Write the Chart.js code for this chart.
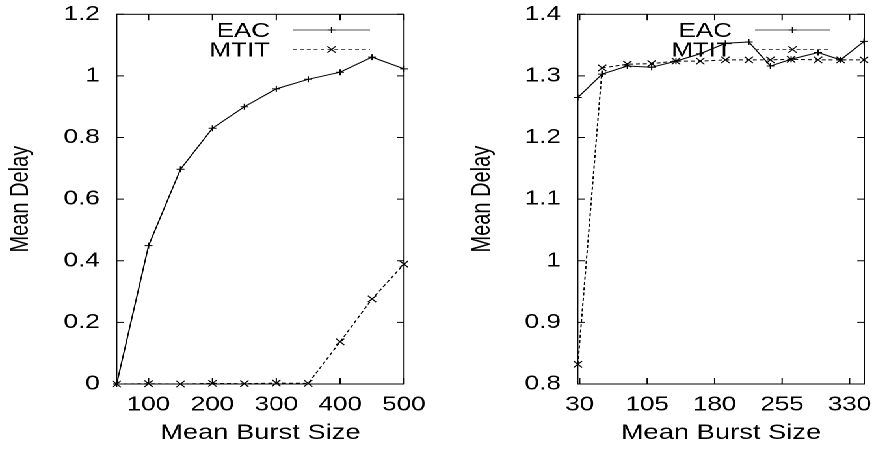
<!DOCTYPE html>
<html>
<head>
<meta charset="utf-8">
<script src="https://cdn.jsdelivr.net/npm/chart.js@4.4.1/dist/chart.umd.min.js"></script>
<style>
  html, body { margin: 0; padding: 0; background: #fff; }
  body { width: 874px; height: 449px; overflow: hidden; }
  /* the original figure is stretched horizontally */
  #wrap { position: absolute; left: 0; top: 0; width: 672px; height: 449px;
          transform: scaleX(1.3006); transform-origin: 0 0; }
  .panel { position: absolute; top: 0; width: 336px; height: 449px; }
  canvas { display: block; }
</style>
</head>
<body>
<div id="wrap">
  <div class="panel" style="left:0"><canvas id="left" width="336" height="449"></canvas></div>
  <div class="panel" style="left:336px"><canvas id="right" width="336" height="449"></canvas></div>
</div>
<script>
// left panel
const leftBurst = [50, 100, 150, 200, 250, 300, 350, 400, 450, 500];
const leftEAC = [0, 0.449, 0.697, 0.830, 0.900, 0.958, 0.989, 1.012, 1.061, 1.023];
const leftMTIT = [0, 0.001, 0, 0.002, 0.001, 0.003, 0.002, 0.137, 0.276, 0.389];
const leftXTicks = [100, 200, 300, 400, 500];
const leftYTicks = [0, 0.2, 0.4, 0.6, 0.8, 1, 1.2];

// right panel
const rightBurst = [28, 55, 83, 110, 137, 164, 192, 218, 242, 265, 295, 320, 346];
const rightEAC = [1.265, 1.303, 1.316, 1.314, 1.324, 1.336, 1.353, 1.355, 1.316, 1.327, 1.338, 1.326, 1.356];
const rightMTIT = [0.832, 1.313, 1.319, 1.320, 1.324, 1.324, 1.326, 1.326, 1.326, 1.327, 1.326, 1.326, 1.326];
const rightXTicks = [30, 105, 180, 255, 330];
const rightYTicks = [0.8, 0.9, 1, 1.1, 1.2, 1.3, 1.4];

const seriesNames = ["EAC", "MTIT"];

const FONT = "'Liberation Sans', Arial, Helvetica, sans-serif";

function fmt(v) {
    return String(Math.round(v * 10) / 10);
}

// box around the plot and inward ticks on all four sides, gnuplot style
const frame = {
    id: "frame",
    afterDatasetsDraw(chart) {
        const { ctx, chartArea: a, scales } = chart;
        ctx.save();
        ctx.strokeStyle = "#000";
        ctx.lineWidth = 1;
        ctx.setLineDash([]);
        ctx.strokeRect(a.left, a.top, a.right - a.left, a.bottom - a.top);
        ctx.beginPath();
        for (let t of scales.x.ticks) {
            let x = scales.x.getPixelForValue(t.value);
            ctx.moveTo(x, a.bottom); ctx.lineTo(x, a.bottom - 6);
            ctx.moveTo(x, a.top); ctx.lineTo(x, a.top + 6);
        }
        for (let t of scales.y.ticks) {
            let y = scales.y.getPixelForValue(t.value);
            ctx.moveTo(a.left, y); ctx.lineTo(a.left + 5.4, y);
            ctx.moveTo(a.right, y); ctx.lineTo(a.right - 5.4, y);
        }
        ctx.stroke();
        ctx.restore();
    },
};

// gnuplot key: label, then a long sample line with the marker in its middle
const key = {
    id: "key",
    afterDraw(chart, args, opts) {
        const { ctx } = chart;
        ctx.save();
        ctx.font = "20px " + FONT;
        ctx.fillStyle = "#000";
        ctx.textAlign = "right";
        ctx.textBaseline = "alphabetic";
        chart.data.datasets.forEach((ds, i) => {
            let y = opts.y + i * 19.5;
            ctx.fillText(ds.label, opts.textRight, y + 7);
            ctx.strokeStyle = "#555";
            ctx.lineWidth = 1;
            ctx.setLineDash(ds.borderDash || []);
            ctx.beginPath();
            ctx.moveTo(opts.x0, y); ctx.lineTo(opts.x1, y);
            ctx.stroke();
            ctx.setLineDash([]);
            ctx.strokeStyle = "#000";
            Chart.helpers.drawPoint(ctx, {
                pointStyle: ds.pointStyle, radius: ds.pointRadius, borderWidth: 1, rotation: 0,
            }, (opts.x0 + opts.x1) / 2, y);
        });
        ctx.restore();
    },
};

function makeChart(id, burst, eac, mtit, xTicks, yTicks, xr, yr, pad, keyPos) {
    new Chart(document.getElementById(id), {
        type: "line",
        data: {
            datasets: [
                {
                    label: seriesNames[0],
                    data: burst.map((x, i) => ({ x: x, y: eac[i] })),
                    borderColor: "#000",
                    borderWidth: 1,
                    pointStyle: "cross",
                    pointRadius: 3,
                    pointBorderColor: "#000",
                    pointBorderWidth: 1,
                    clip: false,
                },
                {
                    label: seriesNames[1],
                    data: burst.map((x, i) => ({ x: x, y: mtit[i] })),
                    borderColor: "#000",
                    borderWidth: 1,
                    borderDash: [3, 2.3],
                    pointStyle: "crossRot",
                    pointRadius: 4.5,
                    pointBorderColor: "#000",
                    pointBorderWidth: 1,
                    clip: false,
                },
            ],
        },
        options: {
            responsive: false,
            animation: false,
            devicePixelRatio: 2,
            layout: { padding: pad },
            plugins: {
                legend: false,
                tooltip: { enabled: false },
                key: keyPos,
            },
            scales: {
                x: {
                    type: "linear",
                    min: xr[0],
                    max: xr[1],
                    afterBuildTicks(scale) {
                        scale.ticks = xTicks.map((v) => ({ value: v }));
                    },
                    afterFit(scale) {
                        scale.height = 65;
                        scale.paddingLeft = 0;
                        scale.paddingRight = 0;
                    },
                    grid: { display: false, drawTicks: false },
                    border: { display: false },
                    ticks: {
                        padding: 9,
                        color: "#000",
                        font: { family: FONT, size: 20 },
                        maxRotation: 0,
                        callback: (v) => fmt(v),
                    },
                    title: {
                        display: true,
                        text: "Mean Burst Size",
                        color: "#000",
                        font: { family: FONT, size: 21 },
                        padding: { top: 4, bottom: 3 },
                    },
                },
                y: {
                    min: yr[0],
                    max: yr[1],
                    afterBuildTicks(scale) {
                        scale.ticks = yTicks.map((v) => ({ value: v }));
                    },
                    afterFit(scale) {
                        scale.width = pad.yWidth;
                        scale.paddingTop = 0;
                        scale.paddingBottom = 0;
                    },
                    grid: { display: false, drawTicks: false },
                    border: { display: false },
                    ticks: {
                        padding: 13,
                        color: "#000",
                        font: { family: FONT, size: 20 },
                        callback: (v) => fmt(v),
                    },
                    title: {
                        display: true,
                        text: "Mean Delay",
                        color: "#000",
                        font: { family: FONT, size: 20 },
                        padding: { top: 4, bottom: 4 },
                    },
                },
            },
        },
        plugins: [frame, key],
    });
}

makeChart("left", leftBurst, leftEAC, leftMTIT, leftXTicks, leftYTicks,
    [50, 500], [0, 1.2],
    { left: 0, right: 25.4, top: 14.3, bottom: 0, yWidth: 89.7 },
    { textRight: 207.6, x0: 225.3, x1: 284.5, y: 30 });

makeChart("right", rightBurst, rightEAC, rightMTIT, rightXTicks, rightYTicks,
    [27.8, 346.3], [0.8, 1.4],
    { left: 19, right: 7.5, top: 14.3, bottom: 0, yWidth: 89.2 },
    { textRight: 226.8, x0: 244.5, x1: 302.2, y: 30 });
</script>
</body>
</html>
